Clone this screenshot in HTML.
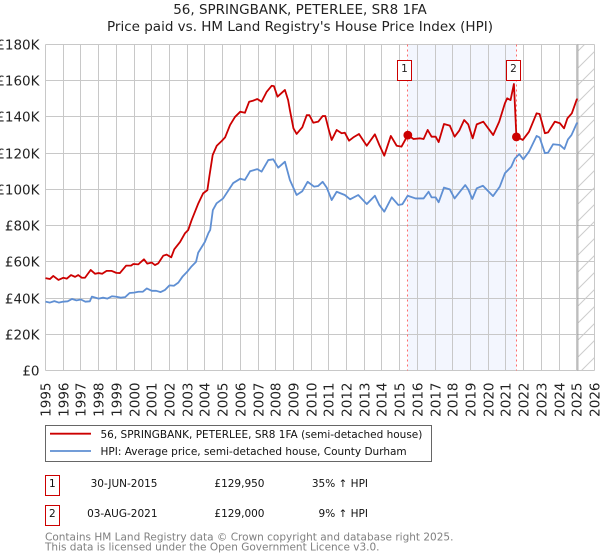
<!DOCTYPE html>
<html lang="en">
<head>
<meta charset="utf-8">
<title>56, SPRINGBANK, PETERLEE, SR8 1FA</title>
<style>
html,body{margin:0;padding:0;background:#fff;width:600px;height:560px;overflow:hidden}
svg{display:block}
text{font-family:"DejaVu Sans","Liberation Sans",sans-serif}
</style>
</head>
<body>
<svg id="chart" xmlns="http://www.w3.org/2000/svg" width="600" height="560" viewBox="0 0 600 560">
  <defs>
    <pattern id="hatch" patternUnits="userSpaceOnUse" width="17" height="17">
      <path d="M0 17L17 0" stroke="#cccccc" stroke-width="1" fill="none"/>
    </pattern>
  </defs>
  <rect x="0" y="0" width="600" height="560" fill="#ffffff"/>
  <text x="300" y="14" font-size="13.5" text-anchor="middle" fill="#222">56, SPRINGBANK, PETERLEE, SR8 1FA</text>
  <text x="300" y="31" font-size="13.5" text-anchor="middle" fill="#222">Price paid vs. HM Land Registry's House Price Index (HPI)</text>
  <g id="plot"></g>

  <g>
    <rect x="45.5" y="425.5" width="386" height="36" fill="#fff" stroke="#666" stroke-width="1"/>
    <line x1="50" x2="91" y1="433.7" y2="433.7" stroke="#cc0000" stroke-width="1.8"/>
    <text x="100.5" y="438" font-size="10.5" fill="#111">56, SPRINGBANK, PETERLEE, SR8 1FA (semi-detached house)</text>
    <line x1="50" x2="91" y1="451" y2="451" stroke="#5f8fd3" stroke-width="1.8"/>
    <text x="100.5" y="455" font-size="10.5" fill="#111">HPI: Average price, semi-detached house, County Durham</text>
  </g>

  <g font-size="10.5" fill="#111">
    <rect x="45.5" y="475.5" width="14" height="20" fill="#fff" stroke="#cc0000" stroke-width="1"/>
    <text x="52.3" y="487" text-anchor="middle">1</text>
    <text x="157.5" y="487" text-anchor="end">30-JUN-2015</text>
    <text x="264.5" y="487" text-anchor="end">£129,950</text>
    <text x="368" y="487" text-anchor="end">35% ↑ HPI</text>
  </g>
  <g font-size="10.5" fill="#111">
    <rect x="45.5" y="505.5" width="14" height="20" fill="#fff" stroke="#cc0000" stroke-width="1"/>
    <text x="52.3" y="517" text-anchor="middle">2</text>
    <text x="157.5" y="517" text-anchor="end">03-AUG-2021</text>
    <text x="264.5" y="517" text-anchor="end">£129,000</text>
    <text x="368" y="517" text-anchor="end">9% ↑ HPI</text>
  </g>
  <text x="45" y="540.5" font-size="10.5" fill="#808080">Contains HM Land Registry data © Crown copyright and database right 2025.</text>
  <text x="45" y="550.5" font-size="10.5" fill="#808080">This data is licensed under the Open Government Licence v3.0.</text>
</svg>
<script>
const yearTicks = [1995,1996,1997,1998,1999,2000,2001,2002,2003,2004,2005,2006,2007,2008,2009,2010,2011,2012,2013,2014,2015,2016,2017,2018,2019,2020,2021,2022,2023,2024,2025,2026];
const valueTicks = [0,20,40,60,80,100,120,140,160,180];
const valueTickLabels = ["£0","£20K","£40K","£60K","£80K","£100K","£120K","£140K","£160K","£180K"];

const priceDates = [1995,1995.1,1995.25,1995.44,1995.73,1996,1996.2,1996.44,1996.67,1996.85,1997.05,1997.23,1997.55,1997.8,1998,1998.2,1998.45,1998.74,1999,1999.2,1999.55,1999.83,1999.96,2000.24,2000.56,2000.75,2001,2001.18,2001.37,2001.65,2001.84,2002.1,2002.27,2002.6,2002.87,2003.06,2003.25,2003.63,2003.9,2004.14,2004.25,2004.44,2004.67,2004.95,2005.14,2005.42,2005.7,2006,2006.26,2006.5,2006.73,2006.96,2007.2,2007.49,2007.77,2007.9,2008.1,2008.52,2008.7,2008.8,2009,2009.18,2009.5,2009.75,2009.9,2010.12,2010.4,2010.65,2010.8,2011,2011.16,2011.44,2011.72,2011.9,2012.14,2012.38,2012.7,2013.14,2013.6,2013.85,2014.13,2014.5,2014.83,2015.1,2015.46,2015.78,2016.15,2016.35,2016.58,2016.8,2017.03,2017.2,2017.5,2017.83,2018.1,2018.36,2018.64,2018.87,2019.12,2019.35,2019.72,2020.28,2020.62,2020.94,2021.07,2021.26,2021.45,2021.59,2021.95,2022.3,2022.73,2022.9,2023.2,2023.38,2023.76,2024.05,2024.28,2024.47,2024.72,2025,2025.05];
const priceValues = [51,50.8,50.5,52.2,50,51.2,50.7,52.7,51.7,52.7,51.2,51.2,55.5,53.4,53.8,53.4,55,55,53.9,53.8,57.9,57.9,58.8,58.6,61.4,59,59.6,58.2,59.2,63.4,64,62.5,66.9,71,75.7,77.6,83,92.3,97.8,99.6,107,119,124.1,126.7,128.7,135.5,140,142.9,142.3,148.4,149,149.9,148.4,153.9,157.2,157,151.2,154.9,149.3,143.8,133.7,130.6,134.3,141,141,136.8,137.4,140.5,140.5,132.8,127.3,132.8,131,131.3,126.9,128.7,130.6,124.1,130.4,124.5,118.6,129.5,124.1,123.6,130,127.8,128.2,127.8,132.8,129.1,129.1,126.1,136.1,135.2,129.1,132.4,138.3,135.9,128.2,135.9,137.4,130,137.4,147.5,150.3,149.3,158.2,129.1,127.3,131.8,142,141.6,131,131.5,137.4,136.5,133.7,139.2,142,149.7,149.7];

const hpiDates = [1995,1995.25,1995.5,1995.75,1996,1996.25,1996.5,1996.75,1997,1997.25,1997.5,1997.62,1998,1998.25,1998.5,1998.75,1999,1999.25,1999.5,1999.75,2000,2000.25,2000.5,2000.72,2001,2001.25,2001.5,2001.75,2002,2002.25,2002.5,2002.75,2003,2003.25,2003.5,2003.62,2004,2004.2,2004.3,2004.45,2004.66,2005.03,2005.6,2006,2006.26,2006.55,2006.96,2007.2,2007.58,2007.86,2008.14,2008.52,2008.8,2009.18,2009.5,2009.8,2010.17,2010.4,2010.65,2010.88,2011.16,2011.44,2011.9,2012.2,2012.66,2013.14,2013.6,2013.85,2014.13,2014.55,2014.92,2015.15,2015.45,2015.9,2016.35,2016.63,2016.8,2017.03,2017.2,2017.5,2017.83,2018.1,2018.4,2018.7,2018.87,2019.1,2019.35,2019.7,2020.27,2020.65,2020.94,2021.3,2021.5,2021.75,2021.98,2022.3,2022.73,2022.9,2023.2,2023.38,2023.66,2024.05,2024.3,2024.5,2024.7,2025,2025.05];
const hpiValues = [38,37.5,38.3,37.5,38,38.2,39.5,38.7,39.2,38,38.2,40.8,39.7,40.2,39.7,41,40.7,40.2,40.5,42.8,43,43.5,43.5,45.3,44,44,43.3,44.5,47,46.8,48.5,52,54.5,57.5,60,65,71,75.9,77.6,88.6,92.3,95,103.5,105.9,105.2,110,111.2,109.8,116.2,116.6,112,115.3,105.2,96.9,99,104.2,101.5,101.9,104.2,101,94.1,98.7,96.9,94.5,96.9,91.9,96.5,91.4,87.7,95.6,91.4,91.8,96.5,95,95,98.7,95.6,95.6,92.9,101,100,95,98.7,102.4,100,94.7,100.6,102,96.3,101.5,108.9,112.5,117,119.5,116.6,120.8,129.5,128.7,120,120.3,124.9,124.5,122.3,127.6,130,136.5,136.5];

const saleDates = [2015.46,2021.59];
const salePrices = [129.95,129];
const saleLabels = ["1","2"];
const dataEnd = 2025.06;

const plotLeft = 45.5, plotRight = 594.5, plotTop = 44.5, plotBottom = 370.5;
const xMin = 1995, xMax = 2026, yMin = 0, yMax = 180;
function xScale(v){ return plotLeft + (v - xMin) / (xMax - xMin) * (plotRight - plotLeft); }
function yScale(v){ return plotBottom - (v - yMin) / (yMax - yMin) * (plotBottom - plotTop); }
function snap(p){ return Math.floor(p) + 0.5; }

const plot = document.getElementById('plot');
function make(tag, attrs, text){
  const n = document.createElementNS('http://www.w3.org/2000/svg', tag);
  for (const k in attrs) n.setAttribute(k, attrs[k]);
  if (text !== undefined) n.textContent = text;
  plot.appendChild(n);
  return n;
}
let el;

el = make('rect', {x:xScale(saleDates[0]), y:plotTop, width:xScale(saleDates[1])-xScale(saleDates[0]), height:plotBottom-plotTop, fill:'#f3f6fe'});



el = make('rect', {x:xScale(dataEnd), y:plotTop, width:plotRight-xScale(dataEnd), height:plotBottom-plotTop, fill:'url(#hatch)'});



valueTicks.forEach(function(t, i){
  const y = snap(yScale(t));
  let g = make('line', {x1:plotLeft, x2:plotRight, y1:y, y2:y, stroke:'#c8c8c8', 'stroke-width':1});
  
  
  let l = make('text', {x:39.5, y:y+4.8, 'font-size':13.5, 'text-anchor':'end', fill:'#222'}, valueTickLabels[i]);
  
  
});

yearTicks.forEach(function(t){
  const x = snap(xScale(t));
  let g = make('line', {x1:x, x2:x, y1:plotTop, y2:plotBottom, stroke:'#c8c8c8', 'stroke-width':1});
  
  
  let l = make('text', {x:0, y:0, 'font-size':13.5, 'text-anchor':'end', fill:'#222', transform:'translate(' + (x+4.8) + ',382.5) rotate(-90)'}, String(t));
  
  
});

el = make('line', {x1:xScale(dataEnd), x2:xScale(dataEnd), y1:plotTop, y2:plotBottom, stroke:'#999999', 'stroke-width':1});



saleDates.forEach(function(d){
  const x = snap(xScale(d));
  let g = make('line', {x1:x, x2:x, y1:plotTop, y2:plotBottom, stroke:'#ff6b6b', 'stroke-width':1, 'stroke-dasharray':'2 3'});
  
  
});

function linePath(dates, values){
  return dates.map(function(d, i){ return (i ? 'L' : 'M') + xScale(d).toFixed(2) + ' ' + yScale(values[i]).toFixed(2); }).join('');
}

el = make('path', {d:linePath(hpiDates, hpiValues), fill:'none', stroke:'#5f8fd3', 'stroke-width':1.8, 'stroke-linejoin':'round'});



el = make('path', {d:linePath(priceDates, priceValues), fill:'none', stroke:'#cc0000', 'stroke-width':1.8, 'stroke-linejoin':'round'});



saleDates.forEach(function(d, i){
  const x = xScale(d);
  let c = make('circle', {cx:x, cy:yScale(salePrices[i]), r:4.4, fill:'#cc0000'});
  
  
  const bx = snap(x) - 10;
  let b = make('rect', {x:bx, y:60.5, width:14, height:20, fill:'#fff', stroke:'#cc0000', 'stroke-width':1});
  
  
  let t = make('text', {x:bx+7, y:72, 'font-size':10.5, 'text-anchor':'middle', fill:'#222'}, saleLabels[i]);
  
  
});
</script>
</body>
</html>
